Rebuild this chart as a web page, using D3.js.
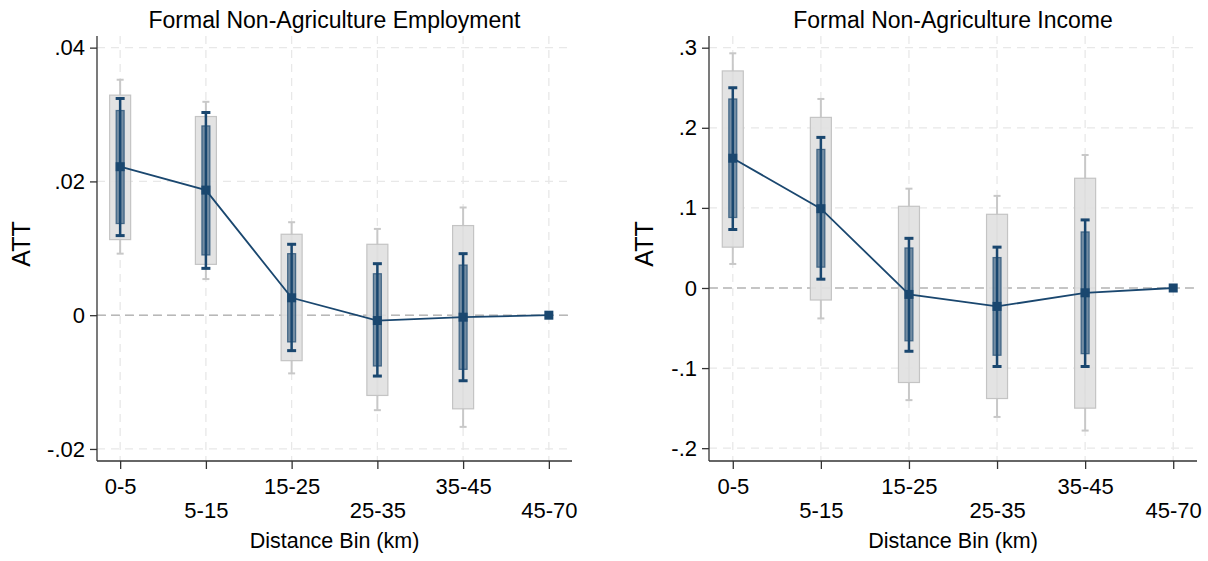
<!DOCTYPE html>
<html>
<head>
<meta charset="utf-8">
<script src="https://cdn.jsdelivr.net/npm/d3@7"></script>
<style>
  body { margin: 0; background: #fff; }
  svg { font-family: "Liberation Sans", Arial, sans-serif; }
</style>
</head>
<body>
<div id="chart"></div>
<script>
const categories = ['0-5', '5-15', '15-25', '25-35', '35-45', '45-70'];

// Formal Non-Agriculture Employment
const empEst = [0.0222, 0.0187, 0.0026, -0.0008, -0.0003, 0];
const empGrayWhiskerLo = [0.0092, 0.0054, -0.0087, -0.0142, -0.0167, null];
const empGrayWhiskerHi = [0.0352, 0.0319, 0.0139, 0.0129, 0.0161, null];
const empGrayBoxLo = [0.0113, 0.0076, -0.0068, -0.0120, -0.0140, null];
const empGrayBoxHi = [0.0329, 0.0297, 0.0121, 0.0106, 0.0134, null];
const empBlueWhiskerLo = [0.0119, 0.0070, -0.0053, -0.0091, -0.0098, null];
const empBlueWhiskerHi = [0.0324, 0.0303, 0.0106, 0.0077, 0.0092, null];
const empBlueBoxLo = [0.0137, 0.0090, -0.0040, -0.0076, -0.0081, null];
const empBlueBoxHi = [0.0306, 0.0283, 0.0092, 0.0062, 0.0075, null];
const empTicks = [0.04, 0.02, 0, -0.02];

// Formal Non-Agriculture Income
const incEst = [0.162, 0.099, -0.008, -0.023, -0.006, 0];
const incGrayWhiskerLo = [0.030, -0.038, -0.140, -0.161, -0.178, null];
const incGrayWhiskerHi = [0.293, 0.236, 0.124, 0.115, 0.166, null];
const incGrayBoxLo = [0.051, -0.015, -0.118, -0.138, -0.150, null];
const incGrayBoxHi = [0.271, 0.213, 0.102, 0.092, 0.137, null];
const incBlueWhiskerLo = [0.073, 0.011, -0.079, -0.098, -0.098, null];
const incBlueWhiskerHi = [0.250, 0.188, 0.062, 0.051, 0.085, null];
const incBlueBoxLo = [0.088, 0.026, -0.066, -0.084, -0.082, null];
const incBlueBoxHi = [0.236, 0.173, 0.050, 0.038, 0.070, null];
const incTicks = [0.3, 0.2, 0.1, 0, -0.1, -0.2];

const navy = '#1a476f';

const svg = d3.select('#chart')
  .append('svg')
  .attr('width', 1208)
  .attr('height', 561);

// Stata-style labels: no leading zero, plain hyphen for minus
const fmt = v => v === 0 ? '0'
  : d3.format('.2~f')(v).replace('\u2212', '-').replace(/^(-?)0\./, '$1.');

function drawPanel(p) {
  const x = d3.scaleLinear().domain([0.73, 6.27]).range([p.left, p.right]);
  const y = d3.scaleLinear().domain(p.yDomain).range([461, 36]);
  const idx = categories.map((c, i) => i);
  const g = svg.append('g');

  // grid
  g.selectAll('.hgrid').data(p.ticks).enter().append('line')
    .attr('x1', p.left).attr('x2', p.right)
    .attr('y1', d => y(d)).attr('y2', d => y(d))
    .attr('stroke', '#e8e8e8').attr('stroke-width', 1.3)
    .attr('stroke-dasharray', '8,6');
  g.selectAll('.vgrid').data(idx).enter().append('line')
    .attr('x1', d => x(d + 1)).attr('x2', d => x(d + 1))
    .attr('y1', 36).attr('y2', 461)
    .attr('stroke', '#e8e8e8').attr('stroke-width', 1.3)
    .attr('stroke-dasharray', '8,6');

  // zero reference line
  g.append('line')
    .attr('x1', p.left).attr('x2', p.right)
    .attr('y1', y(0)).attr('y2', y(0))
    .attr('stroke', '#b8b8b8').attr('stroke-width', 1.5)
    .attr('stroke-dasharray', '9,5');

  // axes
  const yAxis = g.append('g')
    .attr('transform', `translate(${p.left},0)`)
    .call(d3.axisLeft(y).tickValues(p.ticks).tickFormat(fmt).tickSize(7).tickPadding(5));
  const xAxis = g.append('g')
    .attr('transform', `translate(0,461)`)
    .call(d3.axisBottom(x).tickValues(idx.map(i => i + 1))
      .tickFormat(d => categories[d - 1]).tickSize(8).tickPadding(6));
  [yAxis, xAxis].forEach(a => {
    a.select('.domain').attr('stroke', '#333').attr('stroke-width', 1.3);
    a.selectAll('.tick line').attr('stroke', '#333').attr('stroke-width', 1.3);
    a.selectAll('text').attr('fill', '#000').style('font-size', '22px')
      .style('font-family', '"Liberation Sans", Arial, sans-serif');
  });
  yAxis.select('.domain').attr('d', `M-0,461V36`);
  xAxis.select('.domain').attr('d', `M${p.left},0H${p.right}`);
  xAxis.selectAll('.tick text').attr('dy', (d, i) => i % 2 ? '1.95em' : '0.88em');

  const ci = idx.filter(i => p.gwLo[i] != null);

  // gray whiskers
  g.selectAll('.gw').data(ci).enter().append('line')
    .attr('x1', i => x(i + 1)).attr('x2', i => x(i + 1))
    .attr('y1', i => y(p.gwLo[i])).attr('y2', i => y(p.gwHi[i]))
    .attr('stroke', '#c8c8c8').attr('stroke-width', 2);
  ['gwLo', 'gwHi'].forEach(k => {
    g.selectAll('.cap' + k).data(ci).enter().append('line')
      .attr('x1', i => x(i + 1) - 3.5).attr('x2', i => x(i + 1) + 3.5)
      .attr('y1', i => y(p[k][i])).attr('y2', i => y(p[k][i]))
      .attr('stroke', '#c8c8c8').attr('stroke-width', 2);
  });

  // gray boxes
  g.selectAll('.gb').data(ci).enter().append('rect')
    .attr('x', i => x(i + 1) - 10.5).attr('width', 21)
    .attr('y', i => y(p.gbHi[i])).attr('height', i => y(p.gbLo[i]) - y(p.gbHi[i]))
    .attr('fill', '#e0e0e0').attr('fill-opacity', 0.9)
    .attr('stroke', '#c4c4c4').attr('stroke-width', 1.2);

  // blue whiskers
  g.selectAll('.bw').data(ci).enter().append('line')
    .attr('x1', i => x(i + 1)).attr('x2', i => x(i + 1))
    .attr('y1', i => y(p.bwLo[i])).attr('y2', i => y(p.bwHi[i]))
    .attr('stroke', navy).attr('stroke-width', 2.5);
  ['bwLo', 'bwHi'].forEach(k => {
    g.selectAll('.cap' + k).data(ci).enter().append('line')
      .attr('x1', i => x(i + 1) - 4.5).attr('x2', i => x(i + 1) + 4.5)
      .attr('y1', i => y(p[k][i])).attr('y2', i => y(p[k][i]))
      .attr('stroke', navy).attr('stroke-width', 3);
  });

  // blue boxes
  g.selectAll('.bb').data(ci).enter().append('rect')
    .attr('x', i => x(i + 1) - 4).attr('width', 8)
    .attr('y', i => y(p.bbHi[i])).attr('height', i => y(p.bbLo[i]) - y(p.bbHi[i]))
    .attr('fill', navy).attr('fill-opacity', 0.55)
    .attr('stroke', navy).attr('stroke-opacity', 0.7).attr('stroke-width', 1.2);

  // estimate line and markers
  g.append('path')
    .datum(idx)
    .attr('d', d3.line().x(i => x(i + 1)).y(i => y(p.est[i])))
    .attr('fill', 'none').attr('stroke', navy).attr('stroke-width', 1.8);
  g.selectAll('.pt').data(idx).enter().append('rect')
    .attr('x', i => x(i + 1) - 4.5).attr('y', i => y(p.est[i]) - 4.5)
    .attr('width', 9).attr('height', 9).attr('fill', navy);

  // titles
  g.append('text')
    .attr('x', (p.left + p.right) / 2).attr('y', 28)
    .attr('text-anchor', 'middle').style('font-size', '23px')
    .text(p.title);
  g.append('text')
    .attr('x', (p.left + p.right) / 2).attr('y', 548)
    .attr('text-anchor', 'middle').style('font-size', '21.5px')
    .text('Distance Bin (km)');
  g.append('text')
    .attr('transform', `translate(${p.yTitleX},244) rotate(-90)`)
    .attr('text-anchor', 'middle').style('font-size', '25px')
    .text('ATT');
}

drawPanel({
  title: 'Formal Non-Agriculture Employment',
  left: 97, right: 572, yTitleX: 30,
  yDomain: [-0.0218, 0.04174], ticks: empTicks,
  est: empEst,
  gwLo: empGrayWhiskerLo, gwHi: empGrayWhiskerHi,
  gbLo: empGrayBoxLo, gbHi: empGrayBoxHi,
  bwLo: empBlueWhiskerLo, bwHi: empBlueWhiskerHi,
  bbLo: empBlueBoxLo, bbHi: empBlueBoxHi
});

drawPanel({
  title: 'Formal Non-Agriculture Income',
  left: 709, right: 1197, yTitleX: 653,
  yDomain: [-0.216, 0.3146], ticks: incTicks,
  est: incEst,
  gwLo: incGrayWhiskerLo, gwHi: incGrayWhiskerHi,
  gbLo: incGrayBoxLo, gbHi: incGrayBoxHi,
  bwLo: incBlueWhiskerLo, bwHi: incBlueWhiskerHi,
  bbLo: incBlueBoxLo, bbHi: incBlueBoxHi
});
</script>
</body>
</html>
